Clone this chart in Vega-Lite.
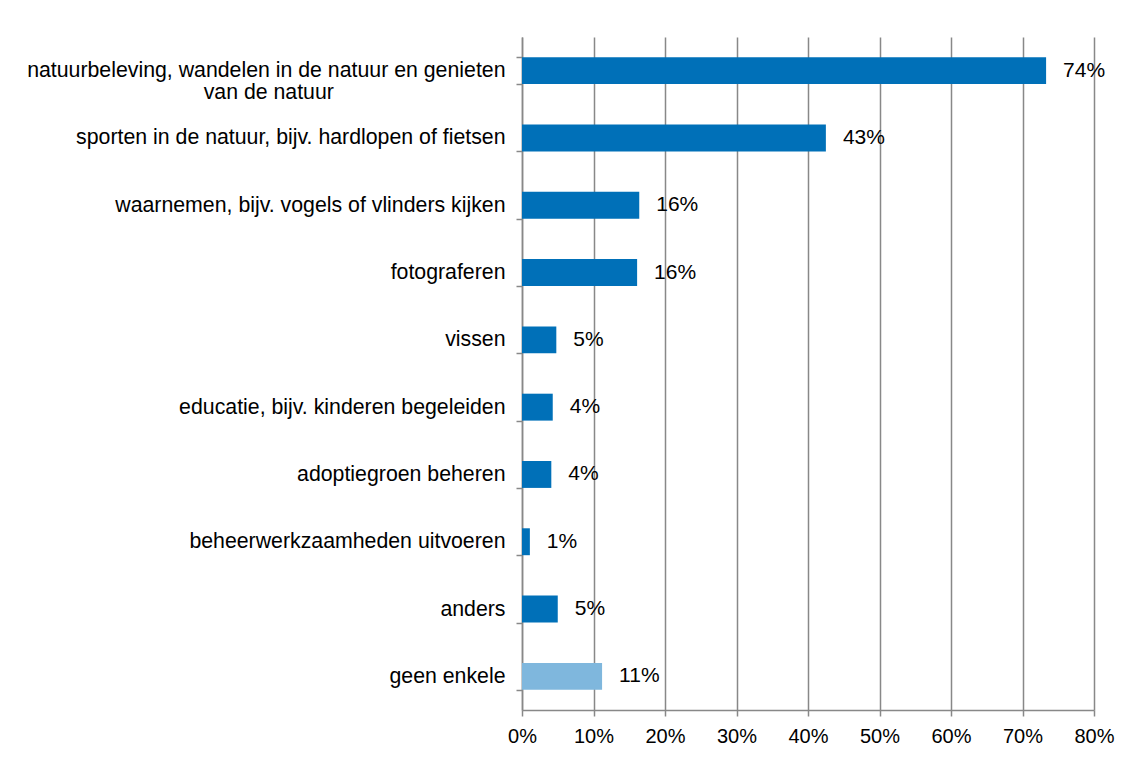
{
  "$schema": "https://vega.github.io/schema/vega-lite/v6.json",
  "autosize": "none",
  "width": 572,
  "height": 673,
  "padding": {"left": 522, "top": 37, "right": 46, "bottom": 48},
  "background": "white",
  "config": {
    "view": {"stroke": null},
    "font": "Liberation Sans",
    "axis": {"labelFont": "Liberation Sans", "labelColor": "#000000"}
  },
  "data": {
    "values": [
      {"activiteit": "natuurbeleving, wandelen in de natuur en genieten van de natuur", "pct": 73.3, "label": "74%", "groep": "a"},
      {"activiteit": "sporten in de natuur, bijv. hardlopen of fietsen", "pct": 42.5, "label": "43%", "groep": "a"},
      {"activiteit": "waarnemen, bijv. vogels of vlinders kijken", "pct": 16.4, "label": "16%", "groep": "a"},
      {"activiteit": "fotograferen", "pct": 16.1, "label": "16%", "groep": "a"},
      {"activiteit": "vissen", "pct": 4.8, "label": "5%", "groep": "a"},
      {"activiteit": "educatie, bijv. kinderen begeleiden", "pct": 4.3, "label": "4%", "groep": "a"},
      {"activiteit": "adoptiegroen beheren", "pct": 4.1, "label": "4%", "groep": "a"},
      {"activiteit": "beheerwerkzaamheden uitvoeren", "pct": 1.1, "label": "1%", "groep": "a"},
      {"activiteit": "anders", "pct": 5.0, "label": "5%", "groep": "a"},
      {"activiteit": "geen enkele", "pct": 11.2, "label": "11%", "groep": "b"}
    ]
  },
  "encoding": {
    "y": {
      "field": "activiteit",
      "type": "nominal",
      "sort": null,
      "scale": {"paddingInner": 0.6, "paddingOuter": 0.3},
      "axis": {
        "title": null,
        "grid": false,
        "tickBand": "extent",
        "domainColor": "#888888",
        "domainWidth": 1.5,
        "tickColor": "#888888",
        "tickWidth": 1.5,
        "tickSize": 6,
        "labelPadding": 11,
        "labelFontSize": 21.3,
        "labelLimit": 600,
        "labelLineHeight": 22,
        "labelExpr": "datum.value == 'natuurbeleving, wandelen in de natuur en genieten van de natuur' ? ['natuurbeleving, wandelen in de natuur en genieten', 'van de natuur\u00a0\u00a0\u00a0\u00a0\u00a0\u00a0\u00a0\u00a0\u00a0\u00a0\u00a0\u00a0\u00a0\u00a0\u00a0\u00a0\u00a0\u00a0\u00a0\u00a0\u00a0\u00a0\u00a0\u00a0\u00a0\u00a0\u00a0\u00a0\u00a0\u200b'] : datum.value"
      }
    },
    "x": {
      "field": "pct",
      "type": "quantitative",
      "scale": {"domain": [0, 80], "nice": false},
      "axis": {
        "title": null,
        "values": [0, 10, 20, 30, 40, 50, 60, 70, 80],
        "labelExpr": "datum.value + '%'",
        "grid": true,
        "gridColor": "#888888",
        "gridWidth": 1.5,
        "domainColor": "#888888",
        "domainWidth": 1.5,
        "tickColor": "#888888",
        "tickWidth": 1.5,
        "tickSize": 6,
        "labelPadding": 10,
        "labelFontSize": 20,
        "labelFlush": false
      }
    }
  },
  "layer": [
    {
      "mark": {"type": "bar"},
      "encoding": {
        "color": {
          "field": "groep",
          "type": "nominal",
          "scale": {"domain": ["a", "b"], "range": ["#0070b8", "#7fb7dd"]},
          "legend": null
        }
      }
    },
    {
      "mark": {"type": "text", "align": "left", "baseline": "middle", "dx": 17, "fontSize": 21, "color": "#000000"},
      "encoding": {"text": {"field": "label"}}
    }
  ]
}
